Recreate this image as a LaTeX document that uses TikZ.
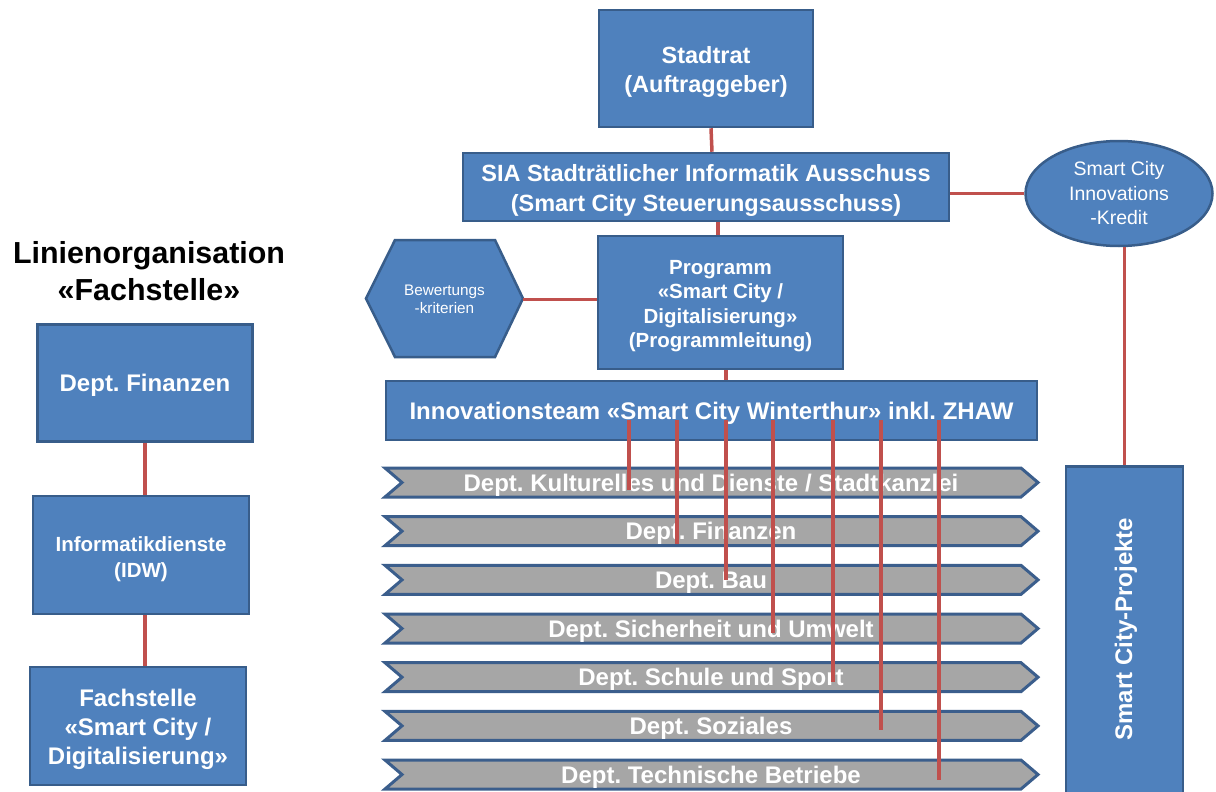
\documentclass[tikz,border=0pt]{standalone}
\usepackage{fontspec}
\setmainfont{Liberation Sans}
\frenchspacing
\usetikzlibrary{calc,shapes.geometric}
\definecolor{boxblue}{HTML}{4F81BD}
\definecolor{boxedge}{HTML}{385D8A}
\definecolor{linkred}{HTML}{C0504D}
\definecolor{chevgray}{HTML}{A6A6A6}
\definecolor{chevedge}{HTML}{3B5E8C}
\tikzset{
  bluebox/.style={draw=boxedge, line width=2.5pt, fill=boxblue, inner sep=0pt},
  boxtext/.style={text=white, align=center, inner sep=0pt},
  redlink/.style={draw=linkred, line width=3.5pt},
  chevshape/.style={draw=chevedge, line width=3pt, fill=chevgray},
  chevtext/.style={text=white, inner sep=0pt, font=\fontsize{24}{28}\selectfont\bfseries}
}
\begin{document}
\begin{tikzpicture}[x=1pt,y=-1pt]
\fill[white] (0,0) rectangle (1216,792);
\useasboundingbox (0,0) rectangle (1216,792);

% top chain
\node[bluebox, minimum width=214, minimum height=117] (stadtrat) at (706,68.5) {};
\node[boxtext, font=\fontsize{23.5}{29}\selectfont\bfseries] (stadtratT) at ($(stadtrat)+(0,3)$) {Stadtrat\\(Auftraggeber)};
\node[bluebox, minimum width=486, minimum height=68] (sia) at (706,187) {};
\node[boxtext, font=\fontsize{23.5}{30}\selectfont\bfseries] (siaT) at ($(sia)+(0,3)$) {SIA Stadträtlicher Informatik Ausschuss\\(Smart City Steuerungsausschuss)};
\node[bluebox, ellipse, minimum width=187, minimum height=105, text=white, align=center, font=\fontsize{19.5}{24.5}\selectfont] (ell) at (1119,193.5) {Smart City\\Innovations\\-Kredit};
\draw[draw=boxedge, line width=2.5pt, fill=boxblue] (366,298.5) -- (395,240) -- (495,240) -- (523,298.5) -- (495,357) -- (395,357) -- cycle;
\node[minimum width=157, minimum height=117, text=white, align=center, font=\fontsize{15.3}{18}\selectfont] (hex) at (444.5,299.5) {Bewertungs\\-kriterien};
\node[bluebox, minimum width=245, minimum height=133] (prog) at (720.5,302.5) {};
\node[boxtext, font=\fontsize{20.5}{24.3}\selectfont\bfseries] (progT) at ($(prog)+(0,3.5)$) {Programm\\«Smart City /\\Digitalisierung»\\(Programmleitung)};
\node[bluebox, minimum width=651, minimum height=59] (innov) at (711.5,410.5) {};
\node[boxtext, font=\fontsize{24}{29}\selectfont\bfseries] (innovT) at ($(innov)+(0,3)$) {Innovationsteam «Smart City Winterthur» inkl. ZHAW};

% chevrons
\foreach \i in {0,...,6}{
  \pgfmathsetmacro\ty{468+48.67*\i}
  \pgfmathsetmacro\by{\ty+29}
  \pgfmathsetmacro\my{\ty+14.5}
  \draw[chevshape] (385,\ty) -- (1021,\ty) -- (1038,\my) -- (1021,\by) -- (385,\by) -- (402,\my) -- cycle;
}
\node[chevtext] (d1) at (711,485) {Dept. Kulturelles und Dienste / Stadtkanzlei};
\node[chevtext] (d2) at (711,533.7) {Dept. Finanzen};
\node[chevtext] (d3) at (711,582.3) {Dept. Bau};
\node[chevtext] (d4) at (711,631) {Dept. Sicherheit und Umwelt};
\node[chevtext] (d5) at (711,679.7) {Dept. Schule und Sport};
\node[chevtext] (d6) at (711,728.3) {Dept. Soziales};
\node[chevtext] (d7) at (711,777) {Dept. Technische Betriebe};

% projects
\node[bluebox, minimum width=117, minimum height=340, anchor=north] (proj) at (1124.5,465) {};
\node[rotate=90, text=white, font=\fontsize{24}{28}\selectfont\bfseries] (projtext) at (1126,629) {Smart City-Projekte};

% left column
\node[align=center, font=\fontsize{30.4}{37}\selectfont\bfseries] (title) at (149,271) {Linienorganisation\\«Fachstelle»};
\node[bluebox, minimum width=215, minimum height=117] (dfin) at (145,383) {};
\node[boxtext, font=\fontsize{24}{29}\selectfont\bfseries] (dfinT) at ($(dfin)+(0,2.5)$) {Dept. Finanzen};
\node[bluebox, minimum width=216, minimum height=118] (idw) at (141,555) {};
\node[boxtext, font=\fontsize{20.5}{26}\selectfont\bfseries] (idwT) at ($(idw)+(0,4)$) {Informatikdienste\\(IDW)};
\node[bluebox, minimum width=216, minimum height=118] (fach) at (138,726) {};
\node[boxtext, font=\fontsize{24}{29}\selectfont\bfseries] (fachT) at ($(fach)+(0,3.5)$) {Fachstelle\\«Smart City /\\Digitalisierung»};

% links
\draw[redlink] ($(stadtrat.south)+(5,0)$) -- ($(sia.north)+(6,0)$);
\draw[redlink] (sia.east |- ell.west) -- (ell.west);
\draw[redlink] ($(sia.south)+(12,0)$) -- ($(prog.north)+(-2.5,0)$);
\draw[redlink] (hex.east) -- (hex.east -| prog.west);
\coordinate (pi) at ($(prog.south)+(5.5,0)$);
\draw[redlink] (pi) -- (pi |- innov.north);
\draw[redlink] (ell.south -| proj.north) -- (proj.north);
\draw[redlink] (dfin.south) -- (idw.north -| dfin.south);
\draw[redlink] (dfin.south |- idw.south) -- (dfin.south |- fach.north);
\foreach \x/\y [count=\k] in {629/490, 677/544, 726/580, 773/633, 833/682, 881/730, 939/780}{
  \coordinate (top\k) at (\x,420);
  \coordinate (end\k) at (\x,\y);
  \draw[redlink] (top\k) -- (end\k);
}
\end{tikzpicture}
\end{document}
